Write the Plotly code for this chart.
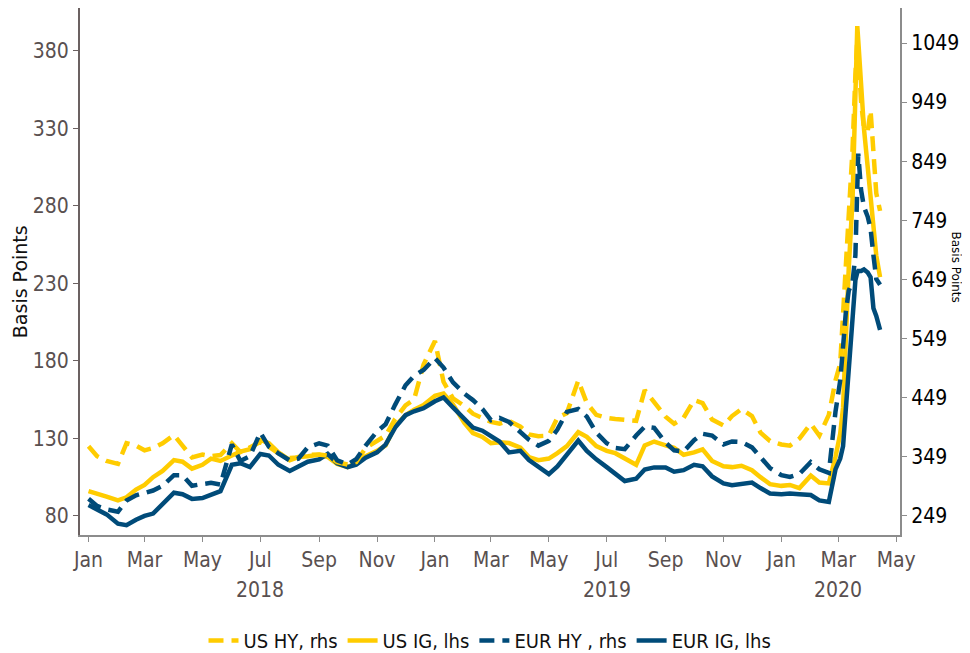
import plotly.graph_objects as go

dates = [
    "2018-01-01", "2018-01-10", "2018-01-20", "2018-02-01", "2018-02-10", "2018-02-20",
    "2018-03-01", "2018-03-10", "2018-03-20", "2018-04-01", "2018-04-10", "2018-04-20",
    "2018-05-01", "2018-05-10", "2018-05-20", "2018-06-01", "2018-06-10", "2018-06-20",
    "2018-07-01", "2018-07-10", "2018-07-20", "2018-08-01", "2018-08-10", "2018-08-20",
    "2018-09-01", "2018-09-10", "2018-09-20", "2018-10-01", "2018-10-10", "2018-10-20",
    "2018-11-01", "2018-11-10", "2018-11-20", "2018-12-01", "2018-12-10", "2018-12-20",
    "2019-01-01", "2019-01-10", "2019-01-20", "2019-02-01", "2019-02-10", "2019-02-20",
    "2019-03-01", "2019-03-10", "2019-03-20", "2019-04-01", "2019-04-10", "2019-04-20",
    "2019-05-01", "2019-05-10", "2019-05-20", "2019-06-01", "2019-06-10", "2019-06-20",
    "2019-07-01", "2019-07-10", "2019-07-20", "2019-08-01", "2019-08-10", "2019-08-20",
    "2019-09-01", "2019-09-10", "2019-09-20", "2019-10-01", "2019-10-10", "2019-10-20",
    "2019-11-01", "2019-11-10", "2019-11-20", "2019-12-01", "2019-12-10", "2019-12-20",
    "2020-01-01", "2020-01-10", "2020-01-20", "2020-02-01", "2020-02-10", "2020-02-20",
    "2020-02-27", "2020-03-03", "2020-03-06", "2020-03-09", "2020-03-12", "2020-03-16",
    "2020-03-19", "2020-03-21", "2020-03-22", "2020-03-25", "2020-03-28", "2020-04-01",
    "2020-04-04", "2020-04-07", "2020-04-10", "2020-04-14",
]

us_hy = [
    367, 350, 342, 337, 372, 368, 360, 364, 372, 386, 368, 348,
    353, 350, 352, 372, 357, 365, 374, 366, 355, 347, 348, 352,
    353, 351, 340, 336, 340, 364, 375, 385, 413, 436, 446, 505,
    545, 476, 448, 435, 422, 414, 408, 405, 410, 400, 387, 384,
    385, 415, 423, 478, 440, 420, 415, 413, 412, 410, 462, 442,
    417, 405, 415, 445, 440, 412, 402, 418, 430, 418, 390, 376,
    370, 368, 380, 405, 385, 420,
    478, 507, 595, 672, 740, 870, 995, 1055, 1030, 950, 905, 900,
    935, 850, 795, 765,
]

us_ig = [
    96, 94, 92.5, 90, 92, 97, 100, 105, 109, 116, 115, 110.5,
    113, 117, 115.5, 119, 121.5, 123, 129, 127, 121, 116, 118, 118.5,
    119.5, 118, 113.5, 111.5, 114, 118.5, 122, 125.5, 138, 145, 148.5, 151.5,
    157.5, 159, 152, 140, 133.5, 131, 127, 127.5, 127, 124, 118, 116,
    117, 120.5, 125, 134, 131, 125, 122, 120.5, 117, 113, 125.5, 128,
    125.5, 124, 119.5, 121, 123, 115.5, 112, 111.5, 112.4, 109.5, 105, 100.5,
    99.4, 100, 98, 106, 101.5, 101,
    118, 133, 150, 198, 240, 284, 345, 396, 387, 355, 330, 305,
    286, 267, 248, 234,
]

eur_hy = [
    278, 266, 260, 256, 275, 284, 288, 292, 300, 318, 318, 300,
    303, 305, 302, 370, 342, 350, 390, 366, 355, 343, 346, 365,
    372, 368, 343, 336, 345, 368, 392, 404, 437, 470, 486, 496,
    516, 500, 475, 456, 445, 430, 411, 415, 408, 390, 378, 368,
    376, 395, 425, 430, 417, 390, 372, 364, 362, 385, 400, 398,
    373, 360, 358, 377, 388, 385, 370, 375, 374, 365, 348, 330,
    318, 315, 320, 340, 328, 322,
    425, 478, 535, 595, 630, 645, 690, 790, 862, 800, 772, 755,
    735, 690, 650, 640,
]

eur_ig = [
    87, 84.5, 81, 75, 74, 77.5, 80, 81.5, 88, 95, 94, 91,
    91.5, 93.5, 96, 113, 114, 111.5, 120, 119, 113, 109, 112, 115,
    116.5, 120, 114, 111.5, 113, 117.5, 121, 126, 137, 145, 147.5, 149.5,
    154, 156.5, 150, 142, 137, 135, 131.5, 128, 121, 122, 116, 112,
    107, 112, 120, 128.6, 122, 116.5, 111.5, 107, 102.5, 104, 110, 111.3,
    111.3, 108.5, 109.5, 113, 112, 105.5, 101, 99.8, 100.5, 101.5, 98, 94.5,
    94, 94.5, 94, 93.5, 90, 89,
    110, 117, 125, 150, 168, 208, 232, 237, 238, 238, 239, 237,
    234, 214, 209, 200,
]

left_ticks = [80, 130, 180, 230, 280, 330, 380]
right_ticks = [249, 349, 449, 549, 649, 749, 849, 949, 1049]
year_labels = [("2018-07-01", "2018"), ("2019-07-01", "2019"), ("2020-03-01", "2020")]

YELLOW = "#FFCC00"
BLUE = "#004B79"
TICKFONT = "Liberation Sans Narrow, DejaVu Sans Condensed, sans-serif"
GREY = "#595050"
LW = 4.5
DASH = "15px,8px"

fig = go.Figure()
fig.add_trace(go.Scatter(x=dates, y=us_hy, name="US HY, rhs", yaxis="y2", mode="lines",
                         line=dict(color=YELLOW, width=LW, dash=DASH)))
fig.add_trace(go.Scatter(x=dates, y=us_ig, name="US IG, lhs", yaxis="y", mode="lines",
                         line=dict(color=YELLOW, width=LW)))
fig.add_trace(go.Scatter(x=dates, y=eur_hy, name="EUR HY , rhs", yaxis="y2", mode="lines",
                         line=dict(color=BLUE, width=LW, dash=DASH)))
fig.add_trace(go.Scatter(x=dates, y=eur_ig, name="EUR IG, lhs", yaxis="y", mode="lines",
                         line=dict(color=BLUE, width=LW)))

annotations = [
    dict(text="Basis Points", x=-0.073, y=0.48, xref="paper", yref="paper", showarrow=False,
         textangle=-90, xanchor="center", yanchor="middle",
         font=dict(family="DejaVu Sans", size=19, color="#111111")),
    dict(text="Basis Points", x=1.068, y=0.508, xref="paper", yref="paper", showarrow=False,
         textangle=90, xanchor="center", yanchor="middle",
         font=dict(family="DejaVu Sans", size=12, color="#000000")),
]
for d, t in year_labels:
    annotations.append(dict(text=t, x=d, y=-0.104, xref="x", yref="paper", showarrow=False,
                            xanchor="center", yanchor="middle",
                            font=dict(family=TICKFONT, size=21, color=GREY)))

# The page body adds an 8px offset, so the figure is sized/placed to compensate.
fig.update_layout(
    width=962, height=645,
    margin=dict(l=72, r=70, t=0, b=118, autoexpand=False),
    paper_bgcolor="white", plot_bgcolor="white",
    showlegend=True,
    legend=dict(orientation="h", x=0.5, xanchor="center", y=-0.2, yanchor="middle",
                font=dict(family=TICKFONT, size=20, color="#111111"), itemwidth=30,
                traceorder="normal"),
    xaxis=dict(type="date", range=["2017-12-23", "2020-05-05"], tick0="2018-01-01", dtick="M2",
               tickformat="%b", showgrid=False, zeroline=False, showline=True, linecolor="#8c8c8c",
               linewidth=2, ticks="outside", ticklen=5, tickcolor="#8c8c8c", automargin=False,
               tickfont=dict(family=TICKFONT, size=21, color=GREY)),
    yaxis=dict(range=[67.7, 407.7], tickvals=left_ticks, showgrid=False, zeroline=False,
               showline=True, linecolor="#6b6161", linewidth=2, ticks="outside", ticklen=5,
               tickcolor="#6b6161", automargin=False,
               tickfont=dict(family=TICKFONT, size=21, color=GREY)),
    yaxis2=dict(range=[216.8, 1108.2], tickvals=right_ticks, overlaying="y", side="right",
                showgrid=False, zeroline=False, showline=True, linecolor="#8c8c8c", linewidth=2,
                ticks="outside", ticklen=5, tickcolor="#8c8c8c", automargin=False,
                tickfont=dict(family=TICKFONT, size=21, color="#000000")),
    annotations=annotations,
)

fig.write_html("out.html")
